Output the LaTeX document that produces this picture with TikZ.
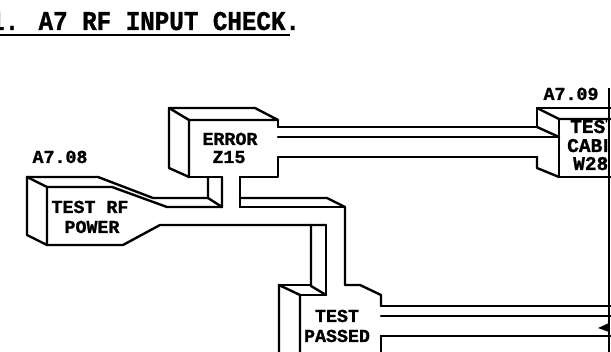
\documentclass[tikz,border=0pt]{standalone}
\usepackage{fontspec}
\newfontfamily\monob{Liberation Mono}[FakeBold=1.2]
\tikzset{
  ln/.style={line width=2.4pt,line cap=round,line join=round},
  lbl/.style={font=\monob\bfseries\fontsize{18.3}{20}\selectfont,inner sep=0pt,anchor=base},
  lblw/.style={lbl,anchor=base west,font=\monob\bfseries\fontsize{19.5}{21}\selectfont},
}
\begin{document}
\begin{tikzpicture}[x=1pt,y=-1pt]
\clip (0,0) rectangle (611,352);
\fill[white] (0,0) rectangle (611,352);
% title
\node[anchor=base west,inner sep=0pt] (title) at (-10,30)
  {\scalebox{1}[1.12]{\monob\bfseries\fontsize{24.2}{26}\selectfont 1. A7 RF INPUT CHECK.}};
\draw[line width=2.6pt] (0,35) -- (290,35);
% labels
\node[lbl] (l08) at (60,163) {A7.08};
\node[lbl] (l09) at (571,100) {A7.09};
% ERROR box
\draw[ln] (169,108) -- (255,108) -- (278,120) -- (189,120) -- cycle;
\draw[ln] (169,108) -- (169,168) -- (189,177) -- (189,120);
\draw[ln] (278,120) -- (278,127);
\draw[ln] (278,157) -- (278,177) -- (240,177);
\draw[ln] (222,177) -- (189,177);
\node[lbl] (err1) at (230,145) {ERROR};
\node[lbl] (err2) at (229,163) {Z15};
% vertical pipe below ERROR
\draw[ln] (208,177) -- (208,198) -- (222,207) -- (222,177);
\draw[ln] (240,177) -- (240,207);
% TEST RF POWER box and funnel
\draw[ln] (27,177) -- (27,235) -- (47,245) -- (47,187) -- cycle;
\draw[ln] (27,177) -- (98,177) -- (153,198) -- (208,198);
\draw[ln] (47,187) -- (112,187) -- (167,207) -- (222,207);
\draw[ln] (47,245) -- (123,245) -- (160,225) -- (326,225);
\node[lbl] (rf1) at (90,213) {TEST RF};
\node[lbl] (rf2) at (92,233) {POWER};
% pipe elbow towards TEST PASSED
\draw[ln] (240,198) -- (327,198) -- (345,207) -- (345,285);
\draw[ln] (240,207) -- (345,207);
\draw[ln] (326,225) -- (326,295);
\draw[ln] (311,225) -- (311,286) -- (326,295);
% TEST PASSED box
\draw[ln] (279,360) -- (279,285) -- (300,295) -- (300,360);
\draw[ln] (279,285) -- (311,285);
\draw[ln] (300,295) -- (326,295);
\draw[ln] (345,285) -- (360,285) -- (381,295) -- (381,306);
\draw[ln] (381,336) -- (381,360);
\node[lbl] (tp1) at (337,322) {TEST};
\node[lbl] (tp2) at (337,342) {PASSED};
% pipe to the right from TEST PASSED
\draw[ln] (381,306) -- (615,306);
\draw[ln] (381,316) -- (615,316);
\draw[ln] (381,336) -- (615,336);
\fill (598,328) -- (609,323) -- (609,332) -- cycle;
% bar ERROR -> A7.09
\draw[ln] (278,127) -- (537,127);
\draw[ln] (278,137) -- (559,137);
\draw[ln] (278,157) -- (537,157);
% A7.09 box
\draw[ln] (537,127) -- (537,108) -- (615,108);
\draw[ln] (537,108) -- (559,119) -- (615,119);
\draw[ln] (559,119) -- (559,177) -- (615,177);
\draw[ln] (537,127) -- (559,137);
\draw[ln] (537,157) -- (537,168) -- (559,177);
\begin{scope}
\clip (559,119) rectangle (607,177);
\node[lblw] (tc1) at (570,133) {TEST};
\node[lblw] (tc2) at (567,152) {CABLE};
\node[lblw] (tc3) at (573,170) {W28};
\end{scope}
% scan edge
\draw[line width=2.6pt] (609,88) -- (609,352);
\end{tikzpicture}
\end{document}
